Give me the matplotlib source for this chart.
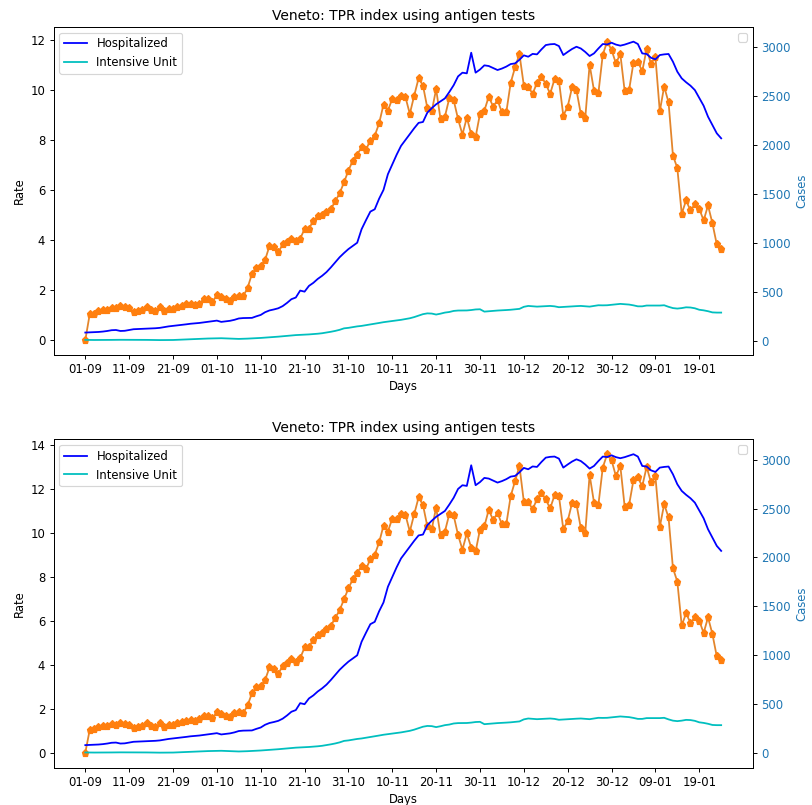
# ============================================
# Veneto - TPR index with antigen tests
# two panels, rate on the left, cases on the right
# ============================================

import numpy as np
import pandas as pd
import matplotlib
matplotlib.use("Agg")
import matplotlib.pyplot as plt
import matplotlib.dates as mdates

plt.rcParams["font.size"] = 9.7

# --------------------------------------------------
# 1 Data (one value per day)
# --------------------------------------------------

days = pd.date_range("2020-09-01", periods=146, freq="D")

tpr_top = [
    0.00, 1.03, 1.05, 1.16, 1.21, 1.19, 1.28, 1.27, 1.35, 1.31,
    1.28, 1.11, 1.16, 1.19, 1.32, 1.21, 1.16, 1.31, 1.16, 1.24,
    1.24, 1.32, 1.37, 1.44, 1.43, 1.40, 1.45, 1.64, 1.63, 1.53,
    1.80, 1.72, 1.64, 1.56, 1.72, 1.77, 1.75, 2.09, 2.65, 2.89,
    2.97, 3.21, 3.77, 3.72, 3.51, 3.83, 3.93, 4.05, 3.96, 4.06,
    4.45, 4.46, 4.78, 4.95, 4.99, 5.12, 5.24, 5.56, 5.88, 6.32,
    6.79, 7.19, 7.43, 7.72, 7.63, 7.99, 8.18, 8.68, 9.43, 9.19,
    9.66, 9.63, 9.78, 9.73, 9.06, 9.79, 10.48, 10.19, 9.29, 9.16,
    10.05, 8.85, 8.95, 9.68, 9.61, 8.85, 8.23, 8.91, 8.24, 8.13,
    9.06, 9.19, 9.75, 9.35, 9.61, 9.12, 9.12, 10.30, 10.92, 11.45,
    10.19, 10.15, 9.86, 10.30, 10.55, 10.26, 9.86, 10.45, 10.39, 8.99,
    9.35, 10.12, 10.01, 9.05, 8.88, 11.03, 9.99, 9.89, 11.43, 11.95,
    11.62, 11.08, 11.46, 9.96, 10.01, 11.11, 11.15, 10.76, 11.66, 11.06,
    11.35, 9.16, 10.15, 9.52, 7.39, 6.89, 5.06, 5.59, 5.19, 5.43,
    5.26, 4.79, 5.39, 4.68, 3.83, 3.66,
]

tpr_bottom = [
    0.00, 1.03, 1.06, 1.18, 1.23, 1.20, 1.29, 1.27, 1.35, 1.30,
    1.27, 1.12, 1.18, 1.21, 1.33, 1.21, 1.15, 1.33, 1.18, 1.26,
    1.27, 1.33, 1.40, 1.46, 1.49, 1.46, 1.52, 1.67, 1.65, 1.56,
    1.85, 1.76, 1.67, 1.61, 1.79, 1.84, 1.79, 2.15, 2.70, 2.97,
    3.03, 3.31, 3.88, 3.82, 3.58, 3.96, 4.06, 4.25, 4.13, 4.30,
    4.79, 4.79, 5.15, 5.37, 5.43, 5.61, 5.78, 6.13, 6.49, 6.99,
    7.48, 7.90, 8.18, 8.51, 8.36, 8.81, 9.01, 9.57, 10.34, 10.07,
    10.66, 10.66, 10.86, 10.83, 10.07, 10.86, 11.62, 11.28, 10.30, 10.18,
    11.16, 9.90, 10.07, 10.86, 10.80, 9.91, 9.25, 9.98, 9.34, 9.16,
    10.16, 10.31, 11.06, 10.59, 10.92, 10.40, 10.40, 11.68, 12.37, 13.05,
    11.43, 11.41, 11.09, 11.53, 11.83, 11.53, 11.12, 11.72, 11.69, 10.18,
    10.55, 11.37, 11.31, 10.22, 9.99, 12.65, 11.39, 11.28, 12.98, 13.59,
    13.32, 12.59, 13.06, 11.19, 11.28, 12.41, 12.53, 12.13, 13.01, 12.31,
    12.59, 10.28, 11.31, 10.71, 8.40, 7.79, 5.79, 6.34, 5.91, 6.16,
    6.01, 5.45, 6.16, 5.40, 4.38, 4.22,
]

hospitalized = [
    82, 84, 86, 88, 92, 98, 106, 108, 98, 100,
    108, 116, 118, 120, 122, 124, 126, 130, 138, 145,
    150, 155, 160, 166, 172, 176, 180, 186, 192, 198,
    204, 191, 196, 202, 212, 226, 230, 231, 232, 248,
    262, 290, 308, 318, 330, 352, 385, 423, 440, 511,
    500, 559, 590, 630, 662, 700, 748, 800, 852, 895,
    935, 968, 1000, 1138, 1230, 1318, 1342, 1450, 1540, 1700,
    1800, 1900, 1990, 2050, 2110, 2170, 2225, 2234, 2330, 2375,
    2415, 2445, 2475, 2540, 2610, 2700, 2738, 2731, 2942, 2738,
    2770, 2813, 2806, 2785, 2765, 2780, 2800, 2826, 2833, 2870,
    2915, 2901, 2930, 2925, 2975, 3020, 3028, 3031, 3010, 2918,
    2950, 2980, 3003, 2985, 2950, 2908, 2935, 2985, 3031, 3026,
    3044, 3025, 3014, 3025, 3040, 3055, 3031, 2935, 2929, 2890,
    2874, 2918, 2925, 2929, 2850, 2748, 2680, 2640, 2605, 2560,
    2480, 2400, 2288, 2203, 2118, 2067,
]

intensive = [
    7, 6, 6, 6, 7, 7, 7, 8, 8, 8,
    8, 8, 8, 7, 7, 6, 6, 5, 5, 5,
    6, 8, 10, 12, 14, 16, 18, 20, 21, 22,
    24, 24, 22, 20, 18, 17, 18, 20, 22, 24,
    27, 30, 33, 36, 40, 44, 48, 52, 56, 58,
    60, 63, 66, 70, 75, 82, 90, 99, 110, 125,
    130, 138, 145, 150, 158, 165, 172, 180, 188, 194,
    200, 206, 212, 220, 228, 240, 255, 270, 278, 276,
    266, 275, 286, 292, 303, 307, 307, 308, 312, 318,
    320, 296, 300, 304, 307, 309, 312, 315, 320, 324,
    345, 354, 350, 347, 349, 352, 354, 350, 341, 344,
    347, 350, 352, 354, 350, 347, 354, 361, 360, 361,
    366, 372, 375, 372, 368, 360, 350, 350, 358, 358,
    358, 358, 361, 345, 332, 327, 332, 340, 338, 330,
    315, 309, 300, 288, 286, 286,
]

tick_days = days[::10]

# --------------------------------------------------
# 2 Figure setup
# --------------------------------------------------

fig = plt.figure(figsize=(812 / 86, 805 / 86), dpi=86)

panels = [
    (tpr_top, [0.0659, 0.559, 0.8614, 0.4078]),
    (tpr_bottom, [0.0659, 0.0465, 0.8614, 0.4078]),
]

# --------------------------------------------------
# 3 Draw both panels
# --------------------------------------------------

for rate, rect in panels:
    ax = fig.add_axes(rect)
    ax.plot(days, rate, "-", color="#e3852c", marker="p",
            markerfacecolor="#ff7f0e", markeredgecolor="#ff7f0e")
    ax.set_ylabel("Rate")
    ax.set_xlabel("Days", labelpad=3.2)
    ax.set_title("Veneto: TPR index using antigen tests")
    ax.set_xticks(tick_days)
    ax.xaxis.set_major_formatter(mdates.DateFormatter("%d-%m"))

    ax2 = ax.twinx()
    ax2.plot(days, hospitalized, color="b", label="Hospitalized")
    ax2.plot(days, intensive, color="c", label="Intensive Unit")
    ax2.set_ylabel("Cases", color="tab:blue")
    ax2.tick_params(axis="y", labelcolor="tab:blue")
    ax2.legend(loc="upper left")

    # the rate line has no label, so this box stays empty
    ax.legend(handles=[], loc="upper right")

plt.savefig("out.png", dpi=86)
plt.close()
